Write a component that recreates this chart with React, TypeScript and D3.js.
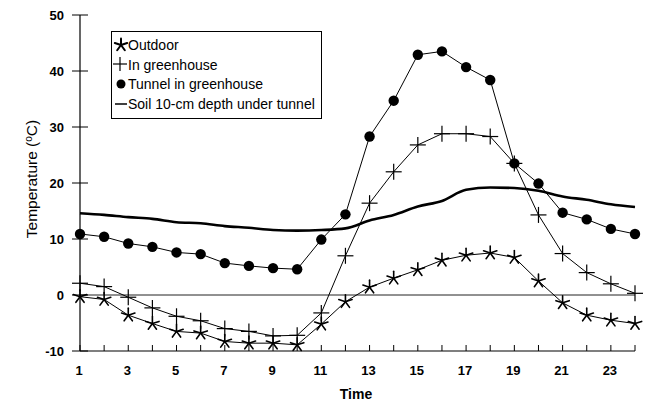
import React from "react";
import * as d3 from "d3";

const hours = [1, 2, 3, 4, 5, 6, 7, 8, 9, 10, 11, 12, 13, 14, 15, 16, 17, 18, 19, 20, 21, 22, 23, 24];
const outdoor = [-0.3, -0.8, -3.6, -5.1, -6.5, -6.8, -8.3, -8.6, -8.6, -8.9, -5.2, -1.2, 1.4, 3.0, 4.5, 6.2, 7.1, 7.5, 6.7, 2.5, -1.4, -3.6, -4.5, -5.1];
const greenhouse = [2.1, 1.5, -0.4, -2.3, -3.8, -4.6, -6.0, -6.5, -7.3, -7.2, -3.2, 7.0, 16.4, 22.0, 26.8, 28.8, 28.8, 28.3, 23.5, 14.3, 7.4, 4.0, 2.0, 0.3];
const tunnel = [10.9, 10.4, 9.2, 8.6, 7.6, 7.3, 5.7, 5.2, 4.8, 4.6, 9.9, 14.4, 28.3, 34.7, 42.9, 43.5, 40.7, 38.4, 23.5, 19.9, 14.7, 13.5, 11.8, 10.9];
const soil = [14.6, 14.3, 13.9, 13.6, 13.0, 12.8, 12.3, 12.0, 11.6, 11.5, 11.6, 11.9, 13.3, 14.3, 15.8, 16.8, 18.8, 19.2, 19.1, 18.6, 17.6, 17.0, 16.2, 15.7];
const yTicks = [-10, 0, 10, 20, 30, 40, 50];
const xTickLabels = [1, 3, 5, 7, 9, 11, 13, 15, 17, 19, 21, 23];
const legendLabels = ["Outdoor", "In greenhouse", "Tunnel in greenhouse", "Soil 10-cm depth under tunnel"];

const W = 648, H = 402;
const x = d3.scaleLinear().domain([1, 24]).range([80, 635]);
const y = d3.scaleLinear().domain([-10, 50]).range([351, 15]);
const FONT = "Arial, 'Liberation Sans', Helvetica, sans-serif";

const line = d3.line<number>().x((_, i) => x(hours[i])).y((d) => y(d));
const smooth = d3.line<number>().x((_, i) => x(hours[i])).y((d) => y(d)).curve(d3.curveMonotoneX);

function Asterisk({ cx, cy, s = 7, w = 1.6 }: { cx: number; cy: number; s?: number; w?: number }) {
  const angles = [-90, -18, 54, 126, 198];
  return (
    <g stroke="#000" strokeWidth={w} strokeLinecap="round">
      {angles.map((a) => {
        const r = (a * Math.PI) / 180;
        return <line key={a} x1={cx} y1={cy} x2={cx + s * Math.cos(r)} y2={cy + s * Math.sin(r)} />;
      })}
    </g>
  );
}

function Plus({ cx, cy, s = 8 }: { cx: number; cy: number; s?: number }) {
  return (
    <g stroke="#000" strokeWidth={1.2}>
      <line x1={cx - s} y1={cy} x2={cx + s} y2={cy} />
      <line x1={cx} y1={cy - s} x2={cx} y2={cy + s} />
    </g>
  );
}

export default function App() {
  return (
    <svg width={W} height={H} style={{ position: "absolute", left: 0, top: 0, background: "#fff" }} fontFamily={FONT}>
      <rect width={W} height={H} fill="#fff" />
      {/* zero line */}
      <line x1={x(1)} x2={x(24)} y1={y(0)} y2={y(0)} stroke="#222" strokeWidth={1} />
      {/* axes */}
      <line x1={x(1)} x2={x(1)} y1={y(50)} y2={y(-10)} stroke="#000" strokeWidth={1.2} />
      <line x1={x(1)} x2={x(24)} y1={y(-10)} y2={y(-10)} stroke="#000" strokeWidth={1.2} />
      {yTicks.map((t) => (
        <g key={t}>
          <line x1={x(1) - 8} x2={x(1) + 8} y1={y(t)} y2={y(t)} stroke="#000" strokeWidth={1} />
          <text x={64} y={y(t)} dy="0.35em" textAnchor="end" fontSize={13} fontWeight="bold">{t}</text>
        </g>
      ))}
      {hours.map((h) => (
        <line key={h} x1={x(h)} x2={x(h)} y1={y(-10)} y2={y(-10) - 6} stroke="#000" strokeWidth={1} />
      ))}
      {xTickLabels.map((h) => (
        <text key={h} x={x(h) - 1} y={375} textAnchor="middle" fontSize={13} fontWeight="bold">{h}</text>
      ))}
      <text x={356} y={399} textAnchor="middle" fontSize={14} fontWeight="bold">Time</text>
      <text transform="translate(37,179) rotate(-90)" textAnchor="middle" fontSize={15.5}>
        Temperature (<tspan fontSize={10} dy={-5}>o</tspan><tspan dy={5}>C)</tspan>
      </text>

      {/* soil */}
      <path d={smooth(soil) || ""} fill="none" stroke="#000" strokeWidth={2.6} />
      {/* tunnel */}
      <path d={line(tunnel) || ""} fill="none" stroke="#000" strokeWidth={1} />
      {tunnel.map((v, i) => (
        <circle key={i} cx={x(hours[i])} cy={y(v)} r={5.2} fill="#000" />
      ))}
      {/* greenhouse */}
      <path d={line(greenhouse) || ""} fill="none" stroke="#000" strokeWidth={1} />
      {greenhouse.map((v, i) => (
        <Plus key={i} cx={x(hours[i])} cy={y(v)} />
      ))}
      {/* outdoor */}
      <path d={line(outdoor) || ""} fill="none" stroke="#000" strokeWidth={1} />
      {outdoor.map((v, i) => (
        <Asterisk key={i} cx={x(hours[i])} cy={y(v)} />
      ))}

      {/* legend */}
      <rect x={111.5} y={31.5} width={210} height={87} fill="#fff" stroke="#000" strokeWidth={1} />
      <Asterisk cx={121} cy={45} s={6.5} w={2} />
      <Plus cx={120} cy={64} s={7} />
      <circle cx={121} cy={84} r={4.5} fill="#000" />
      <line x1={115} x2={127} y1={104} y2={104} stroke="#000" strokeWidth={1.5} />
      {legendLabels.map((l, i) => (
        <text key={l} x={128} y={45 + i * 19.7} dy="0.35em" fontSize={14}>{l}</text>
      ))}
    </svg>
  );
}
